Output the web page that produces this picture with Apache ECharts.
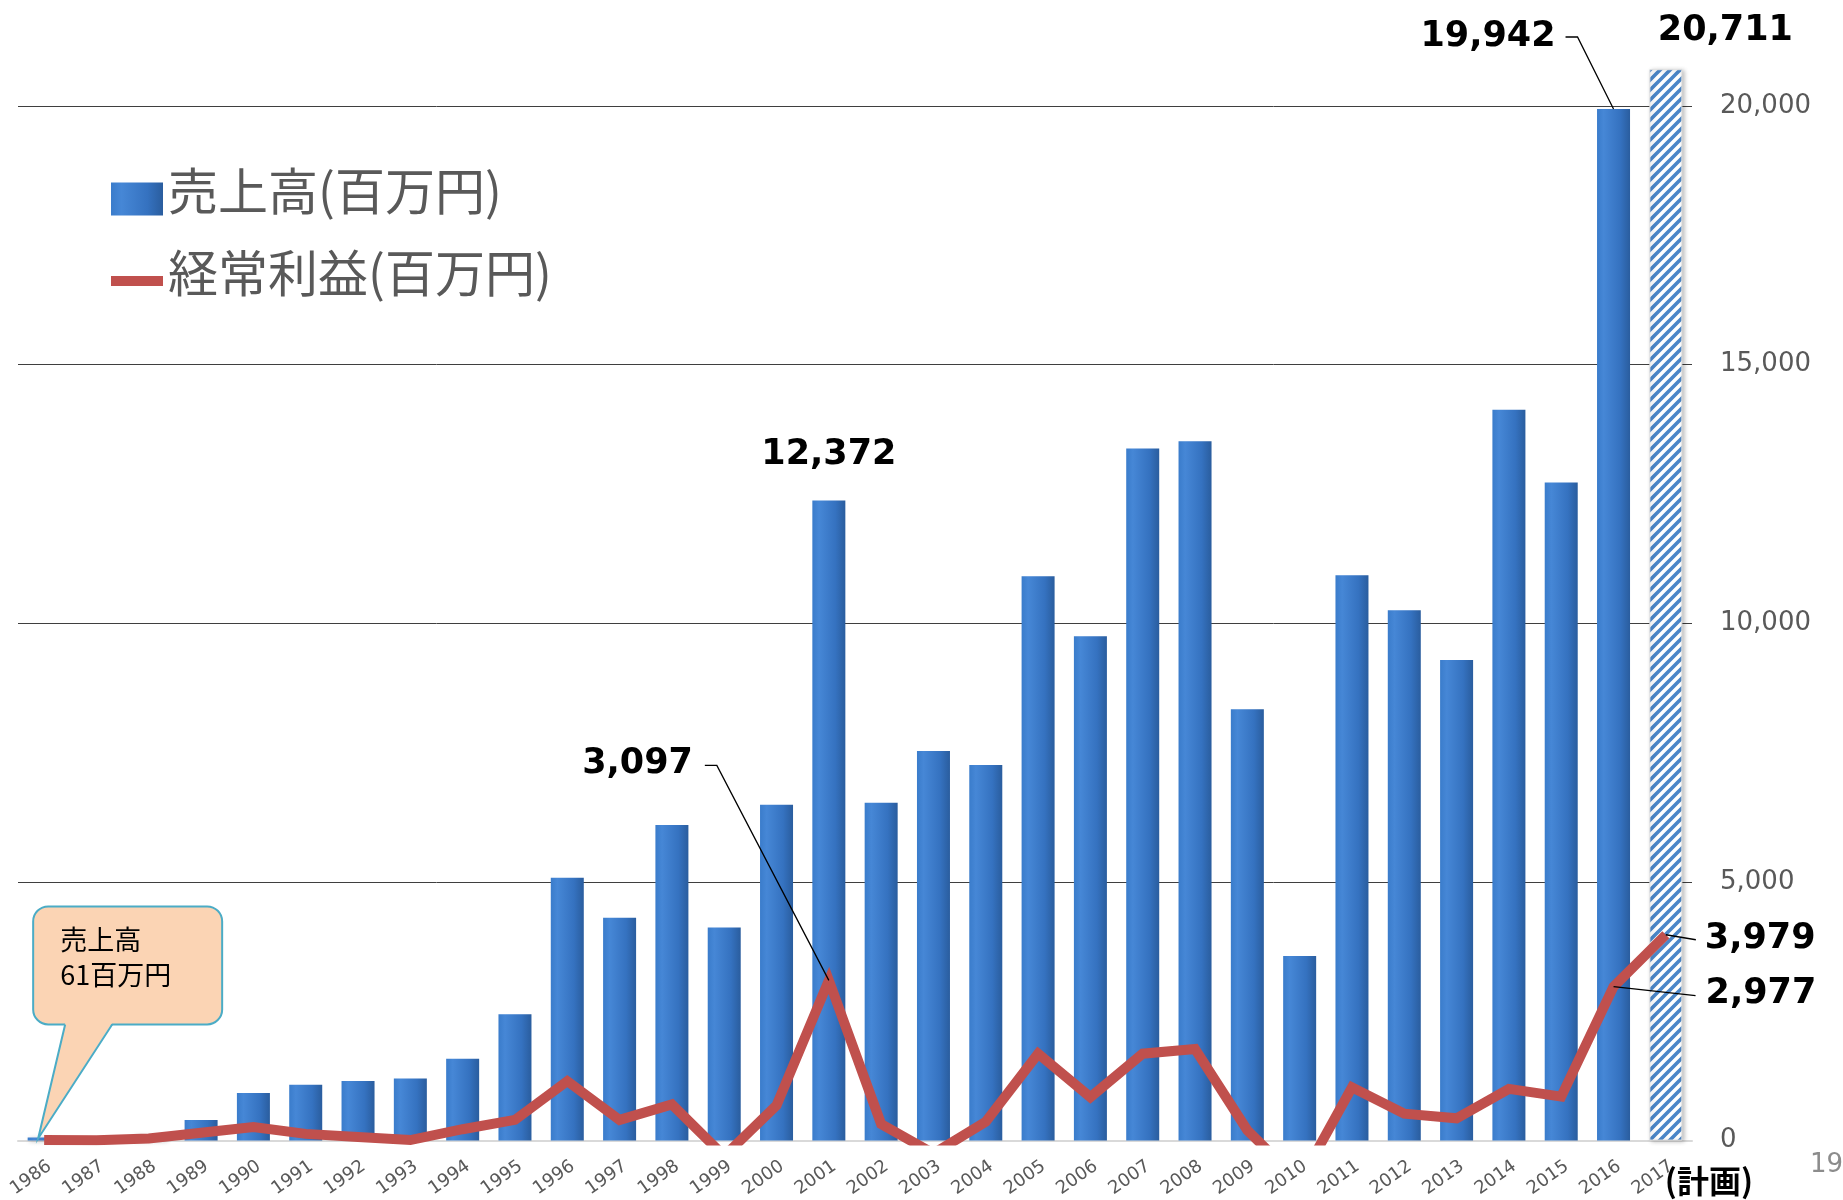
<!DOCTYPE html>
<html>
<head>
<meta charset="utf-8">
<title>売上高・経常利益の推移</title>
<script src="https://cdn.jsdelivr.net/npm/echarts@6/dist/echarts.min.js"></script>
<style>
  html, body { margin: 0; padding: 0; background: #fff; }
  #chart { width: 1843px; height: 1200px; }
</style>
</head>
<body>
<div id="chart"></div>
<script>
// data (百万円)
const years = ['1986', '1987', '1988', '1989', '1990', '1991', '1992', '1993', '1994', '1995',
  '1996', '1997', '1998', '1999', '2000', '2001', '2002', '2003', '2004', '2005',
  '2006', '2007', '2008', '2009', '2010', '2011', '2012', '2013', '2014', '2015',
  '2016', '2017']
const sales = [61, 30, 110, 400, 920, 1080, 1150, 1200, 1580, 2440,
  5080, 4310, 6100, 4120, 6490, 12372, 6530, 7530, 7260, 10910,
  9750, 13380, 13520, 8340, 3570, 10930, 10250, 9290, 14130, 12720,
  19942, 20711]
const profit = [10, 5, 40, 150, 260, 130, 70, 10, 220, 400,
  1150, 400, 700, -300, 680, 3097, 320, -250, 363, 1680,
  840, 1680, 1770, 200, -800, 1030, 520, 430, 1000, 850,
  2977, 3979]
const yTicks = [0, 5000, 10000, 15000, 20000]
const planIndex = 31   // 2017 = 計画
const salesName = '売上高(百万円)'
const profitName = '経常利益(百万円)'

// [series, index, text, text dx, text dy, align, leader points]
const notes = [
  [0, 15, '12,372', 0, -46, 'center', null],
  [0, 31, '20,711', -8, -38, 'left', null],
  [0, 30, '19,942', -58, -72, 'right', [[-48, -72], [-36, -72], [0, 0]]],
  [1, 15, '3,097', -136, -216, 'right', [[-124, -215], [-112, -215], [0, 0]]],
  [1, 31, '3,979', 39, 4, 'left', [[0, 0], [30, 5]]],
  [1, 30, '2,977', 92, 7, 'left', [[0, 0], [82, 9]]]
]

const fmt = (v) => String(v).replace(/\B(?=(\d{3})+(?!\d))/g, ',')

// hatch tile for the plan bar
const makeHatch = () => {
  const s = 10
  const c = document.createElement('canvas')
  c.width = s
  c.height = s
  const ctx = c.getContext('2d')
  ctx.fillStyle = '#ffffff'
  ctx.fillRect(0, 0, s, s)
  ctx.strokeStyle = '#4a86c8'
  ctx.lineWidth = 3.6
  ctx.beginPath()
  ctx.moveTo(-2, 2); ctx.lineTo(2, -2)
  ctx.moveTo(0, s); ctx.lineTo(s, 0)
  ctx.moveTo(s - 2, s + 2); ctx.lineTo(s + 2, s - 2)
  ctx.stroke()
  return c
}

const chart = echarts.init(document.getElementById('chart'))

const barColor = {
  type: 'linear', x: 0, y: 0, x2: 1, y2: 0,
  colorStops: [
    { offset: 0, color: '#3a7ccb' },
    { offset: 0.2, color: '#4687d6' },
    { offset: 0.7, color: '#3572c0' },
    { offset: 1, color: '#2a5d9e' }
  ]
}

const barData = sales.map((v, i) => {
  if (i !== planIndex) return v
  return {
    value: v,
    itemStyle: {
      color: { image: makeHatch(), repeat: 'repeat' },
      borderColor: '#e0e0e0',
      borderWidth: 1
    }
  }
})

const legendText = {
  fontFamily: 'Noto Sans CJK JP',
  fontSize: 50,
  color: '#595959',
  rich: {
    t: {
      fontFamily: 'Noto Sans CJK JP',
      fontSize: 50,
      lineHeight: 56,
      color: '#595959',
      padding: [0, 0, 16, 0]
    }
  }
}

const option = {
  backgroundColor: '#ffffff',
  animation: false,
  grid: { left: 18, right: 151, top: 106, bottom: 58 },
  legend: [
    {
      data: [{ name: salesName, icon: 'rect' }],
      formatter: (name) => '{t|' + name + '}',
      left: 111, top: 166, padding: 0,
      itemWidth: 52, itemHeight: 33,
      textStyle: legendText
    },
    {
      data: [{ name: profitName, icon: 'rect' }],
      formatter: (name) => '{t|' + name + '}',
      left: 111, top: 248, padding: 0,
      itemWidth: 52, itemHeight: 10,
      itemStyle: { color: '#c0504d' },
      textStyle: legendText
    }
  ],
  xAxis: {
    type: 'category',
    data: years,
    axisLine: { lineStyle: { color: '#d9d9d9', width: 2 } },
    axisTick: { show: false },
    axisLabel: {
      rotate: 35,
      margin: 28,
      interval: 0,
      align: 'center',
      verticalAlign: 'middle',
      padding: [0, 32, 0, 0],
      fontFamily: 'DejaVu Sans',
      fontSize: 18,
      color: '#595959'
    }
  },
  yAxis: {
    type: 'value',
    position: 'right',
    min: yTicks[0],
    max: yTicks[yTicks.length - 1],
    interval: yTicks[1] - yTicks[0],
    axisLine: { show: false },
    axisTick: { show: false },
    axisLabel: {
      margin: 28,
      fontFamily: 'DejaVu Sans',
      fontSize: 26,
      color: '#595959',
      formatter: (v) => fmt(v)
    },
    splitLine: {
      lineStyle: { color: ['#d9d9d9', '#3f3f3f', '#3f3f3f', '#3f3f3f', '#3f3f3f'], width: 1 }
    }
  },
  series: [
    {
      name: salesName,
      type: 'bar',
      data: barData,
      barWidth: 33,
      clip: false,
      itemStyle: {
        color: barColor,
        shadowColor: 'rgba(0,0,0,0.25)',
        shadowBlur: 4,
        shadowOffsetX: 2,
        shadowOffsetY: 1
      }
    },
    {
      name: profitName,
      type: 'line',
      data: profit,
      symbol: 'none',
      z: 3,
      lineStyle: { color: '#c0504d', width: 10, join: 'miter' },
      itemStyle: { color: '#c0504d' }
    }
  ]
}

chart.setOption(option)

// annotations placed from the data points
const pt = (s, i) => {
  const v = s === 0 ? sales[i] : profit[i]
  return chart.convertToPixel({ xAxisIndex: 0, yAxisIndex: 0 }, [i, v])
}

const graphics = []
notes.forEach(([s, i, text, dx, dy, align, leader]) => {
  const p = pt(s, i)
  graphics.push({
    type: 'text',
    x: p[0] + dx,
    y: p[1] + dy,
    z: 20,
    style: {
      text: text,
      fontFamily: 'DejaVu Sans',
      fontWeight: 'bold',
      fontSize: 35,
      fill: '#000',
      align: align,
      verticalAlign: 'middle'
    }
  })
  if (leader) {
    graphics.push({
      type: 'polyline',
      z: 19,
      shape: { points: leader.map(([lx, ly]) => [p[0] + lx, p[1] + ly]) },
      style: { stroke: '#000', lineWidth: 1.3, fill: null }
    })
  }
})

// callout on the first year
const tip = pt(0, 0)
const tx = tip[0] - 6
const ty = tip[1] + 1
graphics.push({
  type: 'rect',
  z: 20,
  shape: { x: tx - 5, y: ty - 232, width: 189, height: 118, r: 15 },
  style: { fill: '#fbd4b4', stroke: '#4bacc6', lineWidth: 2 }
})
graphics.push({
  type: 'polygon',
  z: 21,
  shape: { points: [[tx, ty], [tx + 74, ty - 115.5], [tx + 27, ty - 115.5]] },
  style: { fill: '#fbd4b4' }
})
graphics.push({
  type: 'polyline',
  z: 21,
  shape: { points: [[tx + 27, ty - 114], [tx, ty], [tx + 74, ty - 114]] },
  style: { stroke: '#4bacc6', lineWidth: 2, fill: null }
})
graphics.push({
  type: 'text',
  x: tip[0] + 16,
  y: tip[1] - 215,
  z: 22,
  style: {
    text: '売上高\n61百万円',
    fontFamily: 'Noto Sans CJK JP',
    fontSize: 27,
    lineHeight: 35,
    fill: '#000'
  }
})

// (計画) after the 2017 label
const plan = chart.convertToPixel({ xAxisIndex: 0, yAxisIndex: 0 }, [planIndex, 0])
graphics.push({
  type: 'text',
  x: plan[0] - 1,
  y: plan[1] + 40,
  z: 20,
  style: {
    text: '(計画)',
    fontFamily: 'Noto Sans CJK JP',
    fontWeight: 'bold',
    fontSize: 32,
    fill: '#000',
    verticalAlign: 'middle'
  }
})

// slide page number
graphics.push({
  type: 'text',
  x: 1810,
  y: 1152,
  z: 20,
  style: { text: '19', fontFamily: 'DejaVu Sans', fontSize: 26, fill: '#8c8c8c' }
})

chart.setOption({ graphic: graphics })
</script>
</body>
</html>
